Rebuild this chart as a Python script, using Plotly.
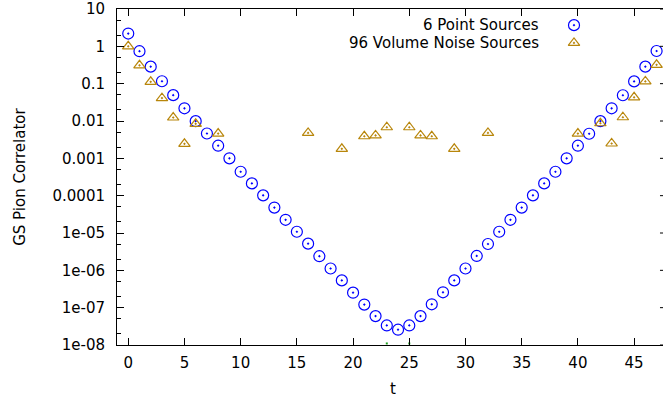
import plotly.graph_objects as go

# Euclidean time slices
t_point = list(range(48))
# GS pion correlator from 6 point sources
c_point = [2.2, 0.74, 0.286, 0.116, 0.0493, 0.0219, 0.00989, 0.00462, 0.00218, 0.00100,
           4.37e-4, 2.13e-4, 1.02e-4, 4.8e-5, 2.26e-5, 1.08e-5, 5.19e-6, 2.39e-6, 1.12e-6, 5.37e-7,
           2.52e-7, 1.21e-7, 5.94e-8, 3.34e-8, 2.57e-8, 3.34e-8, 5.94e-8, 1.23e-7, 2.58e-7, 5.37e-7,
           1.12e-6, 2.43e-6, 5.07e-6, 1.08e-5, 2.26e-5, 4.8e-5, 1.02e-4, 2.13e-4, 4.37e-4, 1.0e-3,
           2.18e-3, 4.55e-3, 9.89e-3, 0.0219, 0.049, 0.115, 0.286, 0.75]

# 96 volume noise sources (only the positive slices appear on the log scale)
t_noise = [0, 1, 2, 3, 4, 5, 6, 8, 16, 19, 21, 22, 23, 25, 26, 27, 29, 32,
           40, 42, 43, 44, 45, 46, 47]
c_noise = [1.0, 0.31, 0.112, 0.041, 0.0124, 0.00245, 0.0084, 0.0046, 0.0048, 0.0018,
           0.0039, 0.0041, 0.0068, 0.0068, 0.0041, 0.0039, 0.0018, 0.0048,
           0.0046, 0.0087, 0.0025, 0.0126, 0.043, 0.115, 0.32]

# points sitting on the lower edge of the range
t_edge = [23, 25]
c_edge = [1.1e-8, 1.1e-8]

series_names = ["6 Point Sources", "96 Volume Noise Sources"]
x_ticks = [0, 5, 10, 15, 20, 25, 30, 35, 40, 45]
y_ticks = [10, 1, 0.1, 0.01, 0.001, 0.0001, 1e-5, 1e-6, 1e-7, 1e-8]
y_tick_text = ["10", "1", "0.1", "0.01", "0.001", "0.0001", "1e-05", "1e-06", "1e-07", "1e-08"]

BLUE = "#0000ff"
GOLD = "#b8860b"
FONT = "DejaVu Sans"

fig = go.Figure()

fig.add_trace(go.Scatter(
    x=t_point, y=c_point, mode="markers", name=series_names[0], showlegend=False,
    marker=dict(symbol="circle-open-dot", size=11, color=BLUE, line=dict(width=1.2, color=BLUE)),
))
fig.add_trace(go.Scatter(
    x=t_noise, y=c_noise, mode="markers", name=series_names[1], showlegend=False,
    marker=dict(symbol="triangle-up-open-dot", size=10, color=GOLD, line=dict(width=1.2, color=GOLD)),
))
fig.add_trace(go.Scatter(
    x=t_edge, y=c_edge, mode="markers", showlegend=False, hoverinfo="skip",
    marker=dict(symbol="square", size=2, color="#20a020", line=dict(width=0)),
))

# key symbols drawn on an overlay axis pair (fractions of the plot box)
key_x = [0.837, 0.837]
key_y = [0.952, 0.899]
fig.add_trace(go.Scatter(
    x=key_x[:1], y=key_y[:1], xaxis="x2", yaxis="y2", mode="markers", showlegend=False,
    hoverinfo="skip",
    marker=dict(symbol="circle-open-dot", size=11, color=BLUE, line=dict(width=1.2, color=BLUE)),
))
fig.add_trace(go.Scatter(
    x=key_x[1:], y=key_y[1:], xaxis="x2", yaxis="y2", mode="markers", showlegend=False,
    hoverinfo="skip",
    marker=dict(symbol="triangle-up-open-dot", size=10, color=GOLD, line=dict(width=1.2, color=GOLD)),
))
for name, ky in zip(series_names, key_y):
    fig.add_annotation(
        x=0.777, y=ky, xref="x2", yref="y2", text=name, showarrow=False,
        xanchor="right", yanchor="middle", font=dict(family=FONT, size=15, color="#000000"),
    )

# axis titles
fig.add_annotation(
    x=0.505, y=-0.132, xref="paper", yref="paper", text="t", showarrow=False,
    xanchor="center", yanchor="middle", font=dict(family=FONT, size=15, color="#000000"),
)
fig.add_annotation(
    x=-0.178, y=0.5, xref="paper", yref="paper", text="GS Pion Correlator", showarrow=False,
    textangle=-90, xanchor="center", yanchor="middle",
    font=dict(family=FONT, size=15, color="#000000"),
)

# short tick stubs along the right-hand border
for v in y_ticks:
    fig.add_shape(type="line", xref="paper", yref="y", x0=0.9945, x1=1.0, y0=v, y1=v,
                  line=dict(color="#000000", width=1))

fig.update_layout(
    width=663, height=400,
    margin=dict(l=117, r=0, t=7, b=55),
    paper_bgcolor="#ffffff", plot_bgcolor="#ffffff",
    font=dict(family=FONT, size=15, color="#000000"),
    xaxis=dict(
        range=[-1.0, 47.57], tickvals=x_ticks, ticks="inside", ticklen=7, tickwidth=1,
        tickcolor="#000000", showline=True, linecolor="#000000", linewidth=1,
        mirror="ticks", showgrid=False, zeroline=False, ticklabelstandoff=4,
    ),
    yaxis=dict(
        type="log", range=[-8, 1], tickvals=y_ticks, ticktext=y_tick_text,
        ticks="inside", ticklen=7, tickwidth=1, tickcolor="#000000",
        showline=True, linecolor="#000000", linewidth=1, mirror=False,
        showgrid=False, zeroline=False, ticklabelstandoff=8, ticklabeloverflow="allow",
        minor=dict(ticks="inside", ticklen=4, tickcolor="#000000", dtick="D2", showgrid=False),
    ),
    xaxis2=dict(range=[0, 1], overlaying="x", visible=False, fixedrange=True),
    yaxis2=dict(range=[0, 1], overlaying="y", visible=False, fixedrange=True),
)

fig.write_html("out.html")
